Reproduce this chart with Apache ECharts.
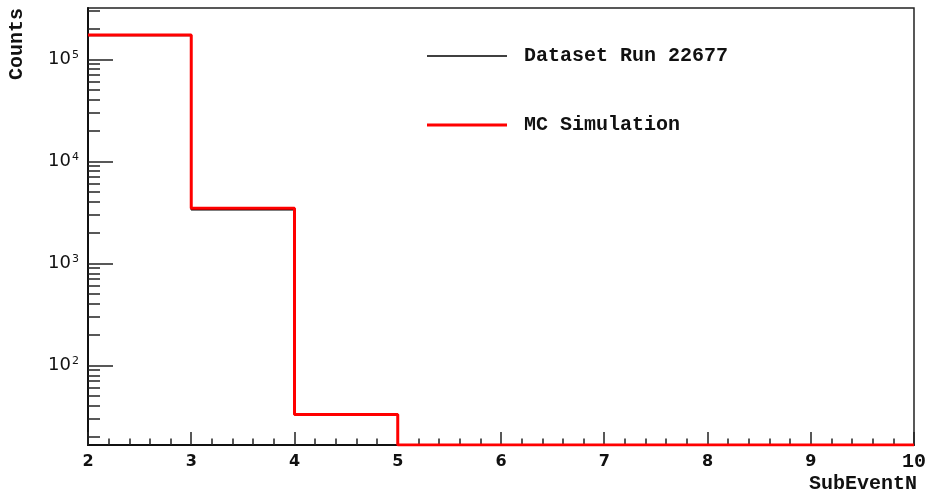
<!DOCTYPE html>
<html>
<head>
    <meta charset="utf-8">
    <title>SubEventN</title>
    <script src="https://cdn.jsdelivr.net/npm/echarts@6/dist/echarts.min.js"></script>
    <style>
        html, body { margin: 0; padding: 0; background: #fff; }
        #main { width: 929px; height: 491px; }
    </style>
</head>
<body>
<div id="main"></div>
<script>
    // bin edges of the histogram (SubEventN)
    var binEdges = [2, 3, 4, 5, 6, 7, 8, 9, 10];
    // counts per bin
    var dataCounts = [171000, 3350, 33, 0, 0, 0, 0, 0];
    var mcCounts = [173000, 3460, 33, 0, 0, 0, 0, 0];
    var seriesNames = ['Dataset Run 22677', 'MC Simulation'];
    var xTicks = [2, 3, 4, 5, 6, 7, 8, 9, 10];
    var yMajor = [100, 1000, 10000, 100000];
    var yMinor = [20, 30, 40, 50, 60, 70, 80, 90,
        200, 300, 400, 500, 600, 700, 800, 900,
        2000, 3000, 4000, 5000, 6000, 7000, 8000, 9000,
        20000, 30000, 40000, 50000, 60000, 70000, 80000, 90000,
        200000, 300000];
    var yMin = 16.6, yMax = 318000;

    // histogram outline: two points per bin, empty bins sit on the bottom edge
    function steps(counts) {
        var pts = [];
        for (var i = 0; i < counts.length; i++) {
            var v = counts[i] > 0 ? counts[i] : yMin;
            pts.push([binEdges[i], v]);
            pts.push([binEdges[i + 1], v]);
        }
        return pts;
    }

    var chart = echarts.init(document.getElementById('main'));
    chart.setOption({
        animation: false,
        grid: {
            left: 88, right: 12, top: 8, bottom: 46,
            show: true, borderColor: '#222', borderWidth: 1.5
        },
        legend: {
            orient: 'vertical',
            left: 427, top: 46, padding: 0,
            itemWidth: 80, itemHeight: 14, itemGap: 49,
            textStyle: {
                fontFamily: 'Liberation Mono', fontWeight: 'bold',
                fontSize: 20, color: '#111', padding: [0, 0, 0, 12]
            },
            data: [
                { name: seriesNames[0], icon: 'path://M0,0 L80,0 L80,1.5 L0,1.5 Z' },
                { name: seriesNames[1], icon: 'path://M0,0 L80,0 L80,3 L0,3 Z' }
            ]
        },
        xAxis: {
            type: 'value', min: 2, max: 10, interval: 1,
            axisLine: { lineStyle: { color: '#111', width: 2 } },
            axisTick: { inside: true, length: 13, lineStyle: { color: '#222', width: 1.5 } },
            minorTick: { show: true, splitNumber: 5, length: 6.5, lineStyle: { color: '#222', width: 1.5 } },
            splitLine: { show: false },
            axisLabel: {
                margin: 9,
                customValues: xTicks,
                formatter: function (v) {
                    return v === 10 ? '{c|10}' : '{s|' + v + '}';
                },
                rich: {
                    s: { fontFamily: 'DejaVu Sans', fontWeight: 'bold', fontSize: 16, color: '#111' },
                    c: { fontFamily: 'Liberation Mono', fontWeight: 'bold', fontSize: 20, color: '#111', lineHeight: 16 }
                }
            }
        },
        yAxis: [{
            type: 'log', min: yMin, max: yMax,
            axisLine: { show: true, lineStyle: { color: '#111', width: 2 } },
            axisTick: { show: true, inside: true, length: 25, customValues: yMajor, lineStyle: { color: '#222', width: 1.5 } },
            splitLine: { show: false },
            axisLabel: {
                margin: 9,
                customValues: yMajor,
                formatter: function (v) {
                    return '{b|10}{e|' + Math.round(Math.log10(v)) + '}';
                },
                rich: {
                    b: { fontFamily: 'DejaVu Sans', fontSize: 18, color: '#111' },
                    e: { fontFamily: 'DejaVu Sans', fontSize: 11, color: '#111', verticalAlign: 'bottom', padding: [0, 0, 8, 1] }
                }
            }
        }, {
            type: 'log', min: yMin, max: yMax, position: 'left',
            axisLine: { show: false },
            axisTick: { show: true, inside: true, length: 12, customValues: yMinor, lineStyle: { color: '#222', width: 1.5 } },
            axisLabel: { show: false },
            splitLine: { show: false }
        }],
        graphic: [{
            type: 'text', left: 7, top: 8, rotation: Math.PI / 2,
            style: { text: 'Counts', font: 'bold 20px "Liberation Mono"', fill: '#111' }
        }, {
            type: 'text', right: 12, top: 474,
            style: { text: 'SubEventN', font: 'bold 20px "Liberation Mono"', fill: '#111' }
        }],
        series: [{
            name: seriesNames[0], type: 'line', yAxisIndex: 0,
            data: steps(dataCounts), symbol: 'none',
            lineStyle: { color: '#000', width: 1.5 },
            itemStyle: { color: '#000' }
        }, {
            name: seriesNames[1], type: 'line', yAxisIndex: 0,
            data: steps(mcCounts), symbol: 'none',
            lineStyle: { color: '#ff0000', width: 3 },
            itemStyle: { color: '#ff0000' }
        }]
    });
</script>
</body>
</html>
